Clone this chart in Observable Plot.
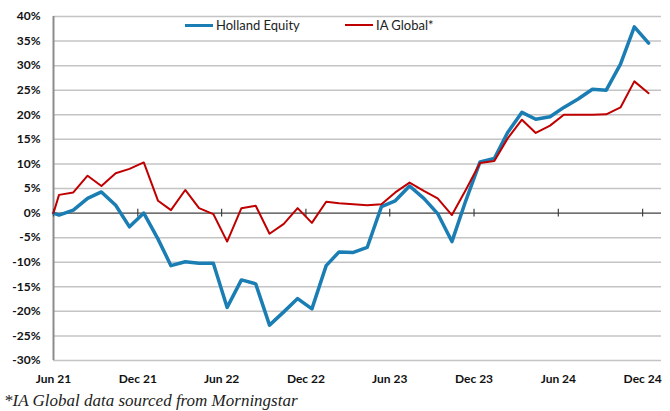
<!DOCTYPE html>
<html><head><meta charset="utf-8">
<script src="https://cdn.jsdelivr.net/npm/d3@7"></script>
<script src="https://cdn.jsdelivr.net/npm/@observablehq/plot@0.6"></script>
<style>
body{margin:0;background:#fff;}
#wrap{position:relative;width:670px;height:411px;overflow:hidden;}
.leg{position:absolute;top:17px;font-family:Lato,"Open Sans",sans-serif;font-size:13px;color:#222;display:flex;align-items:center;height:16px;}
.sw{display:inline-block;width:28px;margin-right:3px;}
#cap{position:absolute;left:4px;top:391px;font-family:"Liberation Serif",serif;font-style:italic;font-size:17px;color:#222;white-space:nowrap;}
</style></head>
<body><div id="wrap">
<div id="chart"></div>
<div class="leg" style="left:185px"><span class="sw" style="border-top:3.5px solid #1a7db3"></span>Holland Equity</div>
<div class="leg" style="left:345px"><span class="sw" style="border-top:2px solid #c00000"></span>IA Global*</div>
<div id="cap">*IA Global data sourced from Morningstar</div>
</div>
<script>
const dates = ["2021-06-18","2021-06-30","2021-07-31","2021-08-31","2021-09-30","2021-10-31","2021-11-30","2021-12-31",
"2022-01-31","2022-02-28","2022-03-31","2022-04-30","2022-05-31","2022-06-30","2022-07-31","2022-08-31","2022-09-30","2022-10-31","2022-11-30","2022-12-31",
"2023-01-31","2023-02-28","2023-03-31","2023-04-30","2023-05-31","2023-06-30","2023-07-31","2023-08-31","2023-09-30","2023-10-31","2023-11-30","2023-12-31",
"2024-01-31","2024-02-29","2024-03-31","2024-04-30","2024-05-31","2024-06-30","2024-07-31","2024-08-31","2024-09-30","2024-10-31","2024-11-30","2024-12-31"];
const holland = [0, -0.4, 0.6, 3.0, 4.3, 1.6, -2.8, 0.0,
-5.3, -10.7, -9.9, -10.2, -10.2, -19.2, -13.6, -14.4, -22.8, -20.1, -17.4, -19.5,
-10.7, -7.9, -8.0, -7.0, 1.3, 2.5, 5.5, 3.0, -0.1, -5.8, 2.5, 10.4,
11.1, 16.4, 20.5, 19.1, 19.6, 21.5, 23.2, 25.2, 25.0, 30.3, 37.9, 34.6];
const iaGlobal = [0, 3.7, 4.2, 7.6, 5.5, 8.1, 9.0, 10.3,
2.5, 0.6, 4.7, 1.0, -0.2, -5.8, 1.0, 1.5, -4.2, -2.2, 1.0, -2.0,
2.3, 2.0, 1.8, 1.6, 1.8, 4.2, 6.2, 4.5, 3.0, -0.4, 4.7, 10.2,
10.6, 15.2, 19.0, 16.3, 17.8, 20.0, 20.0, 20.0, 20.1, 21.5, 26.8, 24.4];
const tickDates = ["2021-06-18","2021-12-18","2022-06-18","2022-12-18","2023-06-18","2023-12-18","2024-06-18","2024-12-18"];
const tickLabels = ["Jun 21","Dec 21","Jun 22","Dec 22","Jun 23","Dec 23","Jun 24","Dec 24"];
const yTicks = [-30,-25,-20,-15,-10,-5,0,5,10,15,20,25,30,35,40];
const xStart = "2021-06-18", xEnd = "2025-01-28";

const parse = d3.utcParse("%Y-%m-%d");
const rows = dates.map((d,i)=>({date: parse(d), holland: holland[i], ia: iaGlobal[i]}));
const labelMap = new Map(tickDates.map((d,i)=>[+parse(d), tickLabels[i]]));

const chart = Plot.plot({
  width: 670, height: 392,
  marginLeft: 53, marginRight: 9, marginTop: 16, marginBottom: 32,
  style: {fontFamily: "Lato, 'Open Sans', sans-serif", color: "#111", background: "#fff"},
  x: {type: "utc", domain: [parse(xStart), parse(xEnd)]},
  y: {domain: [-30, 40]},
  marks: [
    Plot.ruleY(yTicks.filter(v => v !== 0), {stroke: "#c4c4c4", strokeWidth: 1.5}),
    Plot.ruleX([parse(xStart)], {y1: -30, y2: 40, stroke: "#8c8c8c", strokeWidth: 2}),
    Plot.ruleY([0], {stroke: "#404040", strokeWidth: 1.3}),
    Plot.ruleX(tickDates, {x: d => parse(d), y1: -0.8, y2: 0.8, stroke: "#404040", strokeWidth: 1.2}),
    Plot.axisY({ticks: yTicks, tickFormat: d => d + "%", tickSize: 0, tickPadding: 13, fontWeight: "bold", fontSize: 12, label: null}),
    Plot.axisX({ticks: tickDates.map(parse), tickFormat: d => labelMap.get(+d), tickSize: 0, tickPadding: 14, fontWeight: "bold", fontSize: 12, label: null}),
    Plot.line(rows, {x: "date", y: "holland", stroke: "#1a7db3", strokeWidth: 3.5, strokeLinejoin: "round"}),
    Plot.line(rows, {x: "date", y: "ia", stroke: "#c00000", strokeWidth: 2, strokeLinejoin: "round"})
  ]
});
document.getElementById("chart").appendChild(chart);
</script>
</body></html>
